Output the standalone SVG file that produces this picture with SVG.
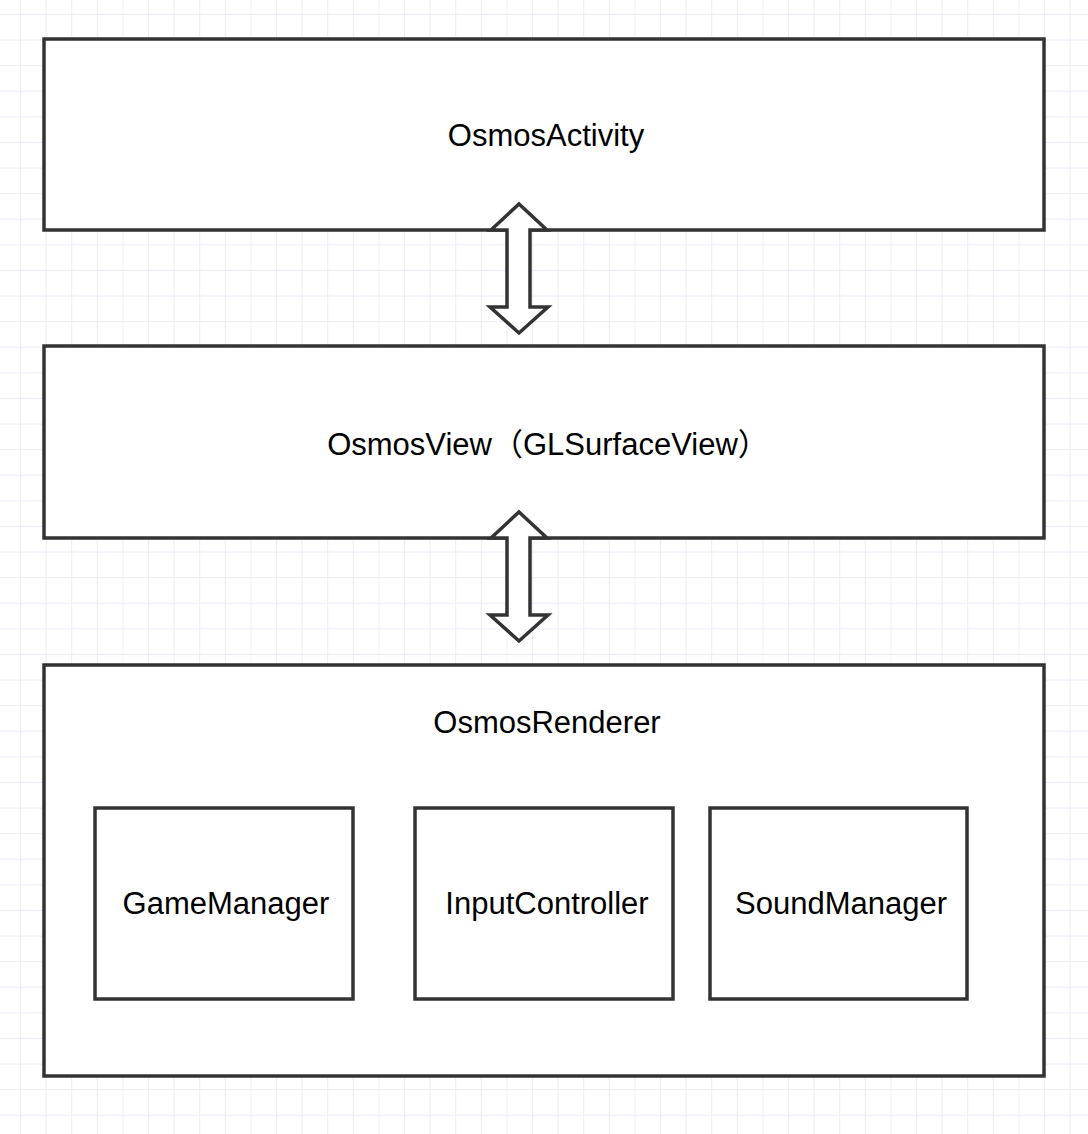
<svg xmlns="http://www.w3.org/2000/svg" width="1088" height="1134" viewBox="0 0 1088 1134">
  <defs>
    <pattern id="grid" x="20" y="14" width="25.6" height="25.6" patternUnits="userSpaceOnUse">
      <path d="M0 0 H25.6 M0 0 V25.6" fill="none" stroke="#ECECFC" stroke-width="2"/>
    </pattern>
    <style>
      .box { fill: #ffffff; stroke: #333333; stroke-width: 3.5; }
      .arrow { fill: #ffffff; stroke: #333333; stroke-width: 3.5; stroke-linejoin: miter; }
      .lbl { font-family: "Liberation Sans", "Noto Sans CJK SC", Arial, sans-serif; font-size: 31px; fill: #000000; text-anchor: middle; }
    </style>
  </defs>
  <rect x="0" y="0" width="1088" height="1134" fill="#ffffff"/>
  <rect x="0" y="0" width="1088" height="1134" fill="url(#grid)"/>

  <g id="osmosActivity">
    <rect class="box" x="44" y="39" width="1000" height="191"/>
    <text class="lbl" x="546" y="146">OsmosActivity</text>
  </g>

  <g id="osmosView">
    <rect class="box" x="44" y="346" width="1000" height="192"/>
    <text class="lbl" x="548" y="455">OsmosView（GLSurfaceView）</text>
  </g>

  <g id="osmosRenderer">
    <rect class="box" x="44" y="665" width="1000" height="411"/>
    <text class="lbl" x="547" y="733">OsmosRenderer</text>
  </g>

  <g id="gameManager">
    <rect class="box" x="95" y="808" width="258" height="191"/>
    <text class="lbl" x="226" y="914">GameManager</text>
  </g>

  <g id="inputController">
    <rect class="box" x="415" y="808" width="258" height="191"/>
    <text class="lbl" x="547" y="914">InputController</text>
  </g>

  <g id="soundManager">
    <rect class="box" x="710" y="808" width="257" height="191"/>
    <text class="lbl" x="841" y="914">SoundManager</text>
  </g>

  <g id="connectors">
    <polygon class="arrow" points="519,204 547,230 530,230 530,307 548,307 519,333 490,307 507,307 507,230 491,230"/>
    <polygon class="arrow" points="519,512 547,538 530,538 530,615 548,615 519,641 490,615 507,615 507,538 491,538"/>
  </g>
</svg>
